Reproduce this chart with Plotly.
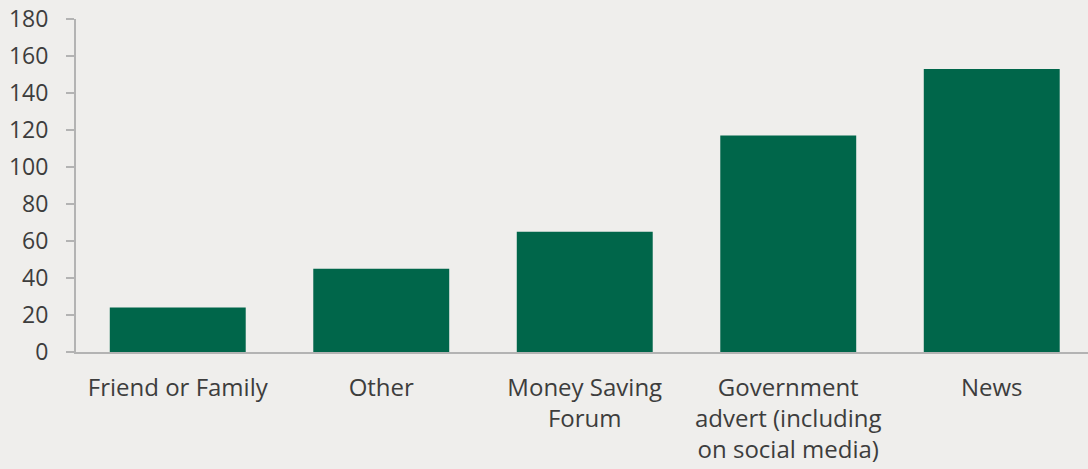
import plotly.graph_objects as go

categories = ["Friend or Family", "Other", "Money Saving<br>Forum",
              "Government<br>advert (including<br>on social media)", "News"]
values = [24, 45, 65, 117, 153]
y_ticks = [0, 20, 40, 60, 80, 100, 120, 140, 160, 180]

bg = "#efeeec"
fig = go.Figure(go.Bar(x=categories, y=values, marker=dict(color="#00664a", line=dict(width=0)),
                       width=0.668))
fig.update_layout(
    width=1088, height=469, paper_bgcolor=bg, plot_bgcolor=bg,
    margin=dict(l=76, r=0, t=19, b=117, autoexpand=False),
    font=dict(family="Open Sans", size=23, color="#3d3d3d"),
    showlegend=False,
)
fig.update_yaxes(range=[0, 180], tickvals=y_ticks, showgrid=False, zeroline=False,
                 showline=True, linecolor="#b3b3b3", linewidth=2, ticks="outside",
                 ticklen=8, tickwidth=2, tickcolor="#b3b3b3", ticklabelstandoff=13,
                 tickfont=dict(size=23))
fig.update_xaxes(range=[-0.5, 4.473], showgrid=False, showline=True, linecolor="#b3b3b3",
                 linewidth=2, ticks="", ticklabelstandoff=13, tickfont=dict(size=24))
fig.write_html("out.html", config={"displayModeBar": False},
               post_script="document.body.style.margin='0';")
